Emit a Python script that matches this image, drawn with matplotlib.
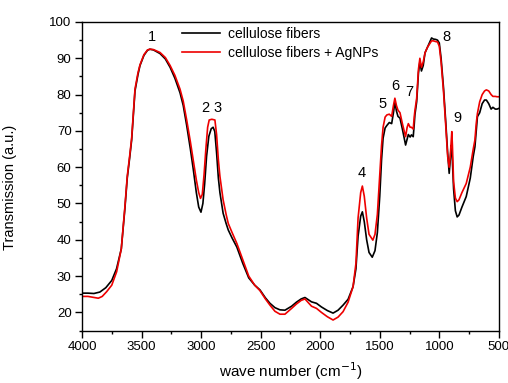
import matplotlib
matplotlib.use("Agg")
import matplotlib.pyplot as plt
from matplotlib.ticker import MultipleLocator

plt.rcParams['font.family'] = ['Liberation Sans', 'DejaVu Sans']

# FTIR spectrum: cellulose fibers
wn_fib = [4000, 3950, 3900, 3850, 3800, 3750, 3710, 3670, 3640, 3620, 3600, 3583, 3555, 3530,
          3513, 3480, 3450, 3430, 3400, 3345, 3300, 3260, 3220, 3177, 3150, 3121, 3090, 3066,
          3040, 3020, 3001, 2985, 2970, 2954, 2935, 2915, 2899, 2885, 2870, 2855, 2842, 2815,
          2790, 2772, 2740, 2700, 2650, 2600, 2550, 2506, 2460, 2422, 2380, 2338, 2296, 2240,
          2200, 2160, 2128, 2100, 2073, 2031, 1990, 1940, 1892, 1850, 1808, 1766, 1724, 1700,
          1682, 1660, 1646, 1630, 1610, 1590, 1563, 1540, 1520, 1500, 1485, 1472, 1455, 1440,
          1420, 1400, 1385, 1373, 1360, 1347, 1330, 1310, 1295, 1283, 1270, 1260, 1245, 1234,
          1219, 1210, 1205, 1190, 1175, 1163, 1150, 1135, 1120, 1100, 1080, 1065, 1050, 1030,
          1015, 1000, 985, 965, 945, 930, 917, 908, 900, 893, 880, 865, 850, 835, 810, 774,
          740, 715, 701, 690, 680, 661, 640, 620, 605, 585, 565, 550, 530, 515, 500]
tr_fib = [25.3, 25.3, 25.2, 25.6, 26.8, 28.8, 32.0, 37.5, 48.5, 57, 62.5, 67.5, 81, 85.5,
          88, 90.8, 92.2, 92.5, 92.3, 91.3, 89.8, 87.5, 84.5, 80.5, 77, 71.5, 65, 59.5,
          53, 49, 47.6, 50, 55.5, 63, 68.5, 70.6, 71, 69.8, 64, 57, 53, 47.3,
          44.5, 42.7, 40.5, 38, 33.5, 29.5, 27.5, 26.2, 24, 22.5, 21.3, 20.7, 20.6, 21.7,
          22.8, 23.7, 24.1, 23.5, 22.9, 22.5, 21.5, 20.5, 19.8, 20.6, 22.0, 23.6, 27.1, 32,
          41, 46.5, 47.7, 45, 40, 36.5, 35.2, 37, 42, 52, 62, 68, 70.8, 71.5,
          72.3, 72, 75, 78, 75.5, 74, 73.5, 70.5, 68, 66.1, 67.8, 69, 68.3, 68.9,
          68.4, 72, 74.4, 78, 86, 89, 86.5, 88, 91.5, 93, 94.5, 95.6, 95.3, 95.2,
          95, 94.2, 90, 82, 72, 64, 58.3, 62, 66, 64, 54, 48, 46.3, 46.8, 49, 51.9,
          57, 63, 65.6, 70, 73.9, 75, 77.5, 78.5, 78.5, 77.5, 76, 76.5, 76, 76, 76.2]

# FTIR spectrum: cellulose fibers + AgNPs
wn_ag = [4000, 3950, 3900, 3863, 3830, 3793, 3750, 3709, 3670, 3640, 3620, 3600, 3583, 3555,
         3530, 3513, 3480, 3450, 3430, 3400, 3345, 3300, 3260, 3220, 3177, 3150, 3121, 3090,
         3066, 3040, 3020, 3005, 2990, 2975, 2960, 2945, 2932, 2910, 2884, 2870, 2855, 2842,
         2815, 2790, 2772, 2740, 2700, 2650, 2600, 2550, 2506, 2460, 2422, 2380, 2338, 2296,
         2240, 2200, 2160, 2128, 2100, 2073, 2031, 1990, 1940, 1892, 1850, 1808, 1766, 1724,
         1700, 1682, 1660, 1646, 1630, 1610, 1590, 1558, 1540, 1520, 1500, 1485, 1472, 1455,
         1440, 1420, 1400, 1385, 1373, 1360, 1347, 1330, 1310, 1295, 1283, 1270, 1260, 1245,
         1234, 1219, 1210, 1205, 1190, 1175, 1163, 1150, 1135, 1120, 1100, 1080, 1065, 1050,
         1030, 1015, 1000, 985, 965, 945, 930, 917, 908, 900, 895, 890, 880, 865, 850, 835,
         810, 774, 740, 715, 701, 690, 680, 661, 640, 620, 605, 585, 565, 550, 530, 515, 500]
tr_ag = [24.4, 24.4, 24.1, 23.9, 24.4, 25.7, 27.5, 31.2, 37.5, 49, 57.5, 63, 68, 81.5,
         86, 88.2, 91, 92.3, 92.5, 92.4, 91.6, 90.2, 88, 85.3, 81.5, 78.2, 73, 67,
         62, 56.5, 53, 51.4, 52.5, 58, 65, 71, 73, 73.2, 73, 69, 62, 57.5,
         51, 47, 44.5, 42, 39, 34.5, 30, 27.5, 26, 23.7, 22, 20.3, 19.5, 19.5,
         21.1, 22.3, 23.3, 23.7, 22.7, 21.7, 21.1, 20, 18.8, 17.9, 18.7, 20.2, 22.8, 27.1,
         33.5, 46, 53, 54.8, 52, 46, 41.5, 39.9, 41.5, 47, 58, 66, 71, 73.8,
         74.4, 74.6, 74, 77, 79, 77, 75.7, 75, 72, 70, 68.4, 71, 72, 71,
         71, 70.5, 74, 75.5, 79, 87, 90, 87.5, 89, 91.5, 93, 94, 94.8, 94.8,
         94.6, 94.5, 93.3, 89, 81, 71, 63, 60, 63, 67, 69.8, 66, 56, 51.5, 50.5, 51,
         53, 55.5, 60, 65, 67.5, 72, 74.8, 78, 80, 81, 81.3, 81, 80, 79.5, 79.5, 79.4, 79.4]

# Band numbers and where they are written
band_labels = ["1", "2", "3", "4", "5", "6", "7", "8", "9"]
band_x = [3413, 2968, 2858, 1650, 1474, 1373, 1256, 937, 844]
band_y = [95.9, 76.3, 76.3, 58.4, 77.4, 82.3, 80.7, 95.9, 73.5]

series_names = ["cellulose fibers", "cellulose fibers + AgNPs"]
x_ticks = [4000, 3500, 3000, 2500, 2000, 1500, 1000, 500]
y_ticks = [20, 30, 40, 50, 60, 70, 80, 90, 100]

fig = plt.figure(figsize=(5.08, 3.83), dpi=100)
ax = fig.add_axes([0.1614, 0.137, 0.8206, 0.8056])

ax.plot(wn_fib, tr_fib, color="black", lw=1.2, label=series_names[0])
ax.plot(wn_ag, tr_ag, color="#ee0000", lw=1.2, label=series_names[1])

for t, x, y in zip(band_labels, band_x, band_y):
    ax.text(x, y, t, ha="center", va="center", fontsize=10.5)

ax.set_xlim(4000, 500)
ax.set_ylim(15, 100)
ax.set_xticks(x_ticks)
ax.set_yticks(y_ticks)
ax.xaxis.set_minor_locator(MultipleLocator(250))
ax.yaxis.set_minor_locator(MultipleLocator(5))
ax.tick_params(which="major", direction="out", length=5, width=1, labelsize=9.5, pad=2.5)
ax.tick_params(which="minor", direction="out", length=2.5, width=1)
for s in ax.spines.values():
    s.set_linewidth(1.0)

ax.set_xlabel("wave number (cm$^{-1}$)", fontsize=11, labelpad=5)
ax.set_ylabel("Transmission (a.u.)", fontsize=10.5, labelpad=14)
ax.yaxis.set_label_coords(-0.155, 0.465)

ax.legend(loc="upper left", bbox_to_anchor=(0.24, 0.985), frameon=False, fontsize=10,
          handlelength=2.7, handletextpad=0.6, labelspacing=0.4, borderpad=0,
          borderaxespad=0)

fig.savefig("out.png", dpi=100)
